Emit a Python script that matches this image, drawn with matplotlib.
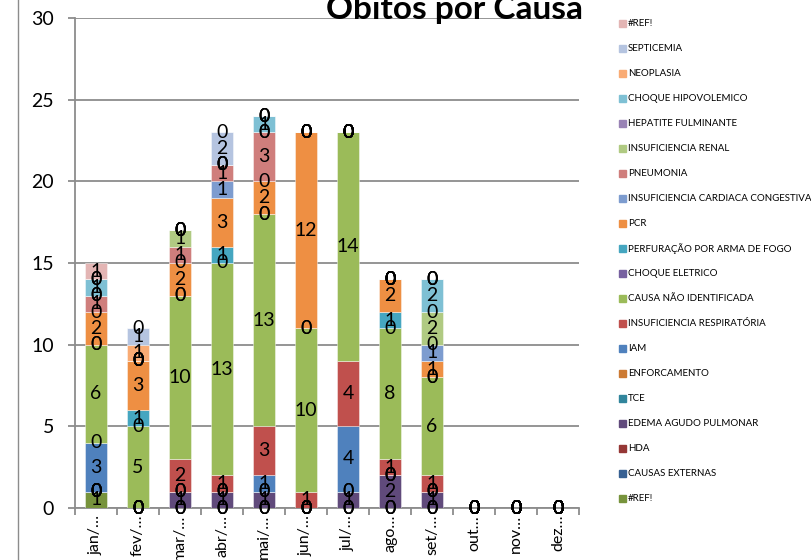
import matplotlib
matplotlib.use('Agg')
import matplotlib.pyplot as plt
from matplotlib.patches import Rectangle
from matplotlib.lines import Line2D
import numpy as np

plt.rcParams['font.family'] = ['Lato', 'DejaVu Sans']

months = ['jan/…', 'fev/…', 'mar/…', 'abr/…', 'mai/…', 'jun/…',
          'jul/…', 'ago…', 'set/…', 'out…', 'nov…', 'dez…']

# ---Causas (ordem de empilhamento, de baixo para cima)---
ref_a       = [1, 0, 0, 0, 0, 0, 0, 0, 0, 0, 0, 0]
causas_ext  = [0, 0, 0, 0, 0, 0, 0, 0, 0, 0, 0, 0]
hda         = [0, 0, 0, 0, 0, 0, 0, 0, 0, 0, 0, 0]
edema       = [0, 0, 1, 1, 1, 0, 1, 2, 1, 0, 0, 0]
tce         = [0, 0, 0, 0, 0, 0, 0, 0, 0, 0, 0, 0]
enforc      = [0, 0, 0, 0, 0, 0, 0, 0, 0, 0, 0, 0]
iam         = [3, 0, 0, 0, 1, 0, 4, 0, 0, 0, 0, 0]
insuf_resp  = [0, 0, 2, 1, 3, 1, 4, 1, 1, 0, 0, 0]
nao_ident   = [6, 5, 10, 13, 13, 10, 14, 8, 6, 0, 0, 0]
choque_el   = [0, 0, 0, 0, 0, 0, 0, 0, 0, 0, 0, 0]
arma_fogo   = [0, 1, 0, 1, 0, 0, 0, 1, 0, 0, 0, 0]
pcr         = [2, 3, 2, 3, 2, 12, 0, 2, 1, 0, 0, 0]
icc         = [0, 0, 0, 1, 0, 0, 0, 0, 1, 0, 0, 0]
pneumonia   = [1, 0, 1, 1, 3, 0, 0, 0, 0, 0, 0, 0]
insuf_renal = [0, 0, 1, 0, 0, 0, 0, 0, 2, 0, 0, 0]
hepatite    = [0, 0, 0, 0, 0, 0, 0, 0, 0, 0, 0, 0]
choque_hipo = [1, 0, 0, 0, 1, 0, 0, 0, 2, 0, 0, 0]
neoplasia   = [0, 1, 0, 0, 0, 0, 0, 0, 0, 0, 0, 0]
septicemia  = [0, 1, 0, 2, 0, 0, 0, 0, 0, 0, 0, 0]
ref_b       = [1, 0, 0, 0, 0, 0, 0, 0, 0, 0, 0, 0]

series = [
    ('#REF!', ref_a, '#77933c'),
    ('CAUSAS EXTERNAS', causas_ext, '#376092'),
    ('HDA', hda, '#953735'),
    ('EDEMA AGUDO PULMONAR', edema, '#604a7b'),
    ('TCE', tce, '#31859c'),
    ('ENFORCAMENTO', enforc, '#cc7a33'),
    ('IAM', iam, '#4f81bd'),
    ('INSUFICIENCIA RESPIRATÓRIA', insuf_resp, '#c0504d'),
    ('CAUSA NÃO IDENTIFICADA', nao_ident, '#9bbb59'),
    ('CHOQUE ELETRICO', choque_el, '#7761a0'),
    ('PERFURAÇÃO POR ARMA DE FOGO', arma_fogo, '#45a6c0'),
    ('PCR', pcr, '#ee8f43'),
    ('INSUFICIENCIA CARDIACA CONGESTIVA', icc, '#7d9ccf'),
    ('PNEUMONIA', pneumonia, '#cf7e7c'),
    ('INSUFICIENCIA RENAL', insuf_renal, '#b0ca82'),
    ('HEPATITE FULMINANTE', hepatite, '#9983b5'),
    ('CHOQUE HIPOVOLEMICO', choque_hipo, '#7ec0d4'),
    ('NEOPLASIA', neoplasia, '#f9ab74'),
    ('SEPTICEMIA', septicemia, '#b5c4e0'),
    ('#REF!', ref_b, '#e3b5b4'),
]

W, H = 811, 560
fig = plt.figure(figsize=(W / 100, H / 100), dpi=100)
ax = fig.add_axes([75 / W, 1 - 508 / H, 504 / W, 490 / H])

x = np.arange(len(months))
bottom = np.zeros(len(months))
for name, vals, color in series:
    vals = np.array(vals, dtype=float)
    ax.bar(x, vals, 0.52, bottom=bottom, color=color,
           edgecolor=(1, 1, 1, 0.5), linewidth=0.6, zorder=3)
    for xi, v, b in zip(x, vals, bottom):
        ax.text(xi, b + v / 2, f'{int(v)}', ha='center', va='center',
                fontsize=14, color='black', zorder=4)
    bottom += vals

grid_c = '#8c8c8c'
ax.set_xlim(-0.5, len(months) - 0.5)
ax.set_ylim(0, 30)
ax.set_yticks(np.arange(0, 31, 5))
ax.yaxis.grid(True, color=grid_c, linewidth=1.3, zorder=0)
ax.set_axisbelow(True)
for s in ['top', 'right']:
    ax.spines[s].set_visible(False)
for s in ['left', 'bottom']:
    ax.spines[s].set_color(grid_c)
    ax.spines[s].set_linewidth(1.3)

ax.set_xticks(x)
ax.set_xticklabels(months, rotation=90, fontsize=11.5)
ax.set_xticks(np.arange(-0.5, len(months)), minor=True)
ax.tick_params(axis='x', which='major', length=0, pad=5)
ax.tick_params(axis='x', which='minor', length=5, width=1.3, color=grid_c)
ax.tick_params(axis='y', length=5, width=1.3, color=grid_c, labelsize=14, pad=10)

fig.text(455 / W, 1 - 19 / H, 'Óbitos por Causa', ha='center', va='baseline',
         fontsize=24, fontweight='bold')

# legenda com a ordem invertida (último item no topo)
n = len(series)
for i, (name, vals, color) in enumerate(series):
    yc = 23 + (n - 1 - i) * 25.05
    fig.patches.append(Rectangle((619 / W, 1 - (yc + 3.5) / H), 7 / W, 7 / H,
                                 transform=fig.transFigure, color=color))
    fig.text(628 / W, 1 - yc / H, name, ha='left', va='center', fontsize=7)

fig.lines.append(Line2D([18 / W, 18 / W], [0, 1], transform=fig.transFigure,
                        color='#8c8c8c', linewidth=1.0))

fig.savefig('out.png', dpi=100)
